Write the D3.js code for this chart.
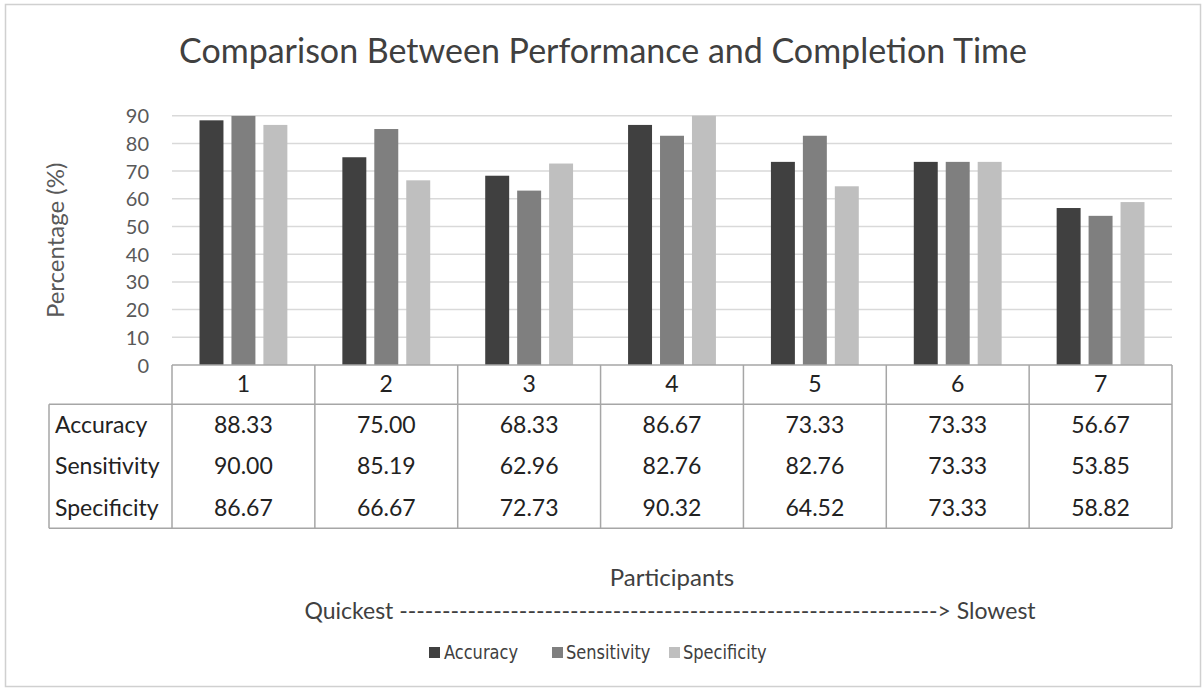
<!DOCTYPE html>
<html>
<head>
<meta charset="utf-8">
<script src="https://cdn.jsdelivr.net/npm/d3@7"></script>
<style>
  html, body { margin: 0; padding: 0; background: #fff; }
  svg { display: block; font-family: Lato, "Open Sans", sans-serif; }
</style>
</head>
<body>
<svg id="chart" width="1203" height="689"></svg>
<script>
// Participants ordered from quickest to slowest completion time
const participants = ["1", "2", "3", "4", "5", "6", "7"];
const seriesNames = ["Accuracy", "Sensitivity", "Specificity"];
const accuracy    = [88.33, 75.00, 68.33, 86.67, 73.33, 73.33, 56.67];
const sensitivity = [90.00, 85.19, 62.96, 82.76, 82.76, 73.33, 53.85];
const specificity = [86.67, 66.67, 72.73, 90.32, 64.52, 73.33, 58.82];
const yTicks = [0, 10, 20, 30, 40, 50, 60, 70, 80, 90];

const seriesValues = [accuracy, sensitivity, specificity];
const colors = ["#404040", "#7f7f7f", "#bfbfbf"];

const svg = d3.select("#chart");

// chart frame
svg.append("rect")
  .attr("x", 5.5).attr("y", 4.5).attr("width", 1195).attr("height", 682)
  .attr("fill", "#fff").attr("stroke", "#d0d0d0").attr("stroke-width", 1.5);

// title
svg.append("text")
  .attr("x", 603).attr("y", 63)
  .attr("text-anchor", "middle")
  .attr("fill", "#404040")
  .style("font-size", "34px")
  .text("Comparison Between Performance and Completion Time");

const plotLeft = 172, plotRight = 1172, plotTop = 115.7, plotBottom = 365;

const x = d3.scaleBand().domain(participants).range([plotLeft, plotRight]).padding(0);
const x1 = d3.scaleBand().domain(seriesNames)
  .range([27.5, x.bandwidth() - 27.5]).paddingInner(0.25).paddingOuter(0);
const y = d3.scaleLinear().domain([0, 90]).range([plotBottom, plotTop]);

// gridlines and tick labels via a left axis
const yAxis = d3.axisLeft(y).tickValues(yTicks).tickSize(0).tickPadding(0);
const gy = svg.append("g").attr("transform", `translate(149,0)`).call(yAxis);
gy.select(".domain").remove();
gy.selectAll("text")
  .attr("fill", "#595959")
  .attr("dy", "0.35em")
  .style("font-size", "20px")
  .style("font-family", "Lato, 'Open Sans', sans-serif");

svg.append("g").selectAll("line")
  .data(yTicks.filter(t => t > 0))
  .join("line")
  .attr("x1", plotLeft).attr("x2", plotRight)
  .attr("y1", d => y(d)).attr("y2", d => y(d))
  .attr("stroke", "#d9d9d9").attr("stroke-width", 1.5);

// y axis title
svg.append("text")
  .attr("transform", `translate(64,${(plotTop + plotBottom) / 2}) rotate(-90)`)
  .attr("text-anchor", "middle")
  .attr("fill", "#595959")
  .style("font-size", "24px")
  .text("Percentage (%)");

// bars, clipped at the axis maximum
svg.append("defs").append("clipPath").attr("id", "plotClip")
  .append("rect").attr("x", plotLeft).attr("y", plotTop)
  .attr("width", plotRight - plotLeft).attr("height", plotBottom - plotTop);

const barData = [];
participants.forEach((p, i) => {
  seriesNames.forEach((s, j) => barData.push({ p, s, v: seriesValues[j][i], j }));
});

svg.append("g").attr("clip-path", "url(#plotClip)")
  .selectAll("rect").data(barData).join("rect")
  .attr("x", d => x(d.p) + x1(d.s))
  .attr("width", x1.bandwidth())
  .attr("y", d => y(d.v))
  .attr("height", d => y(0) - y(d.v))
  .attr("fill", d => colors[d.j]);

// data table below the axis
const rowTop = 404.3, rowH = 41.3, tableLeft = 49;
const tableBottom = rowTop + rowH * seriesNames.length;
const tbl = svg.append("g").attr("stroke", "#a6a6a6").attr("stroke-width", 1.5);

tbl.append("line").attr("x1", plotLeft).attr("x2", plotRight).attr("y1", plotBottom).attr("y2", plotBottom);
tbl.append("line").attr("x1", tableLeft).attr("x2", plotRight).attr("y1", rowTop).attr("y2", rowTop);
tbl.append("line").attr("x1", tableLeft).attr("x2", plotRight).attr("y1", tableBottom).attr("y2", tableBottom);
tbl.append("line").attr("x1", tableLeft).attr("x2", tableLeft).attr("y1", rowTop).attr("y2", tableBottom);
tbl.selectAll(".col").data(participants.concat(["end"])).join("line")
  .attr("x1", (d, i) => plotLeft + i * x.bandwidth())
  .attr("x2", (d, i) => plotLeft + i * x.bandwidth())
  .attr("y1", plotBottom).attr("y2", tableBottom);

// category header row
svg.append("g").selectAll("text").data(participants).join("text")
  .attr("x", d => x(d) + x.bandwidth() / 2)
  .attr("y", 392)
  .attr("text-anchor", "middle")
  .attr("fill", "#222")
  .style("font-size", "23px")
  .text(d => d);

// row labels and values
seriesNames.forEach((s, j) => {
  const cy = rowTop + rowH * (j + 0.5) + 8;
  svg.append("text")
    .attr("x", 55).attr("y", cy)
    .attr("fill", "#222")
    .style("font-size", "23px")
    .text(s);
  svg.append("g").selectAll("text").data(participants).join("text")
    .attr("x", d => x(d) + x.bandwidth() / 2)
    .attr("y", cy)
    .attr("text-anchor", "middle")
    .attr("fill", "#222")
    .style("font-size", "23px")
    .text((d, i) => seriesValues[j][i].toFixed(2));
});

// axis title and speed annotation
svg.append("text")
  .attr("x", 672).attr("y", 586)
  .attr("text-anchor", "middle")
  .attr("fill", "#404040")
  .style("font-size", "24px")
  .text("Participants");

svg.append("text")
  .attr("x", 670).attr("y", 619)
  .attr("text-anchor", "middle")
  .attr("fill", "#404040")
  .style("font-size", "23px")
  .text("Quickest ---------------------------------------------------------------> Slowest");

// legend
const legendItems = [
  { name: "Accuracy", sx: 429, tx: 444 },
  { name: "Sensitivity", sx: 552, tx: 566 },
  { name: "Specificity", sx: 669, tx: 683 }
];
const lg = svg.append("g");
legendItems.forEach((d, i) => {
  lg.append("rect").attr("x", d.sx).attr("y", 647).attr("width", 11).attr("height", 11).attr("fill", colors[i]);
  lg.append("text").attr("x", d.tx).attr("y", 659)
    .attr("fill", "#404040").style("font-size", "19px")
    .style("font-family", "'DejaVu Sans Condensed', Lato, sans-serif")
    .attr("transform", `translate(${d.tx},0) scale(0.95,1) translate(${-d.tx},0)`)
    .text(d.name);
});
</script>
</body>
</html>
